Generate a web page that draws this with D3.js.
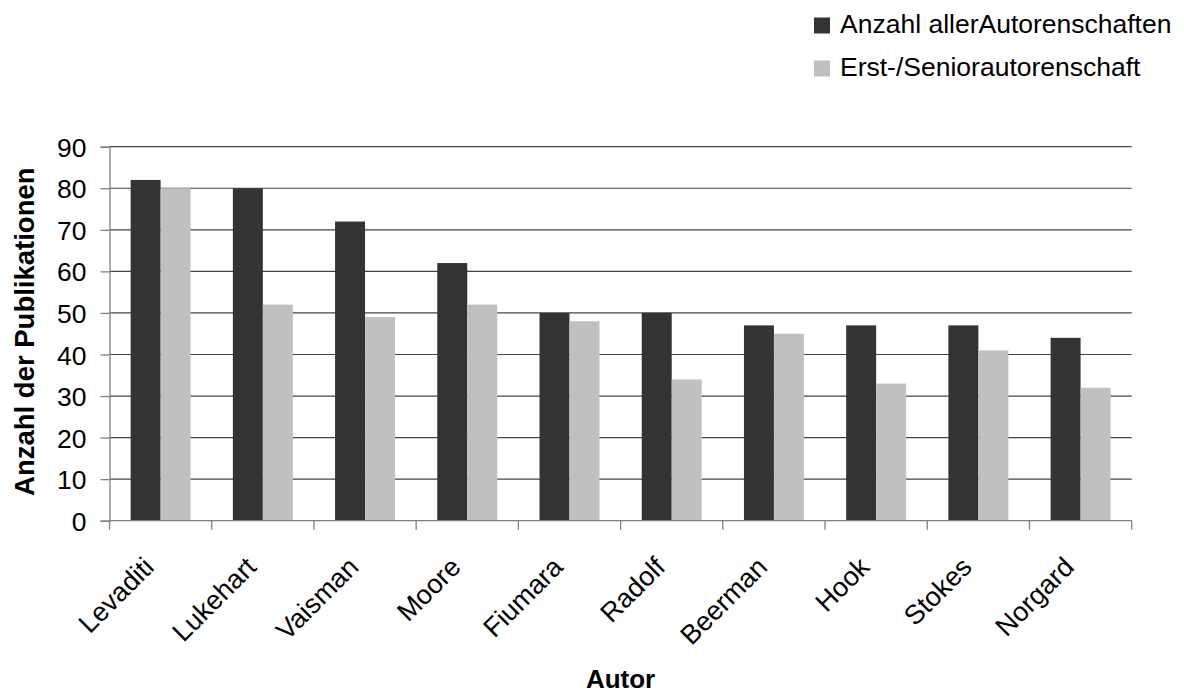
<!DOCTYPE html>
<html>
<head>
<meta charset="utf-8">
<script src="https://cdn.jsdelivr.net/npm/d3@7"></script>
<style>
  body { margin: 0; background: #fff; }
  text { font-family: "Liberation Sans", Arial, sans-serif; fill: #000; }
</style>
</head>
<body>
<div id="chart"></div>
<script>
// data
var authors = ["Levaditi", "Lukehart", "Vaisman", "Moore", "Fiumara", "Radolf", "Beerman", "Hook", "Stokes", "Norgard"];
var allAuthorships = [82, 80, 72, 62, 50, 50, 47, 47, 47, 44];
var firstSenior = [80, 52, 49, 52, 48, 34, 45, 33, 41, 32];
var seriesNames = ["Anzahl allerAutorenschaften", "Erst-/Seniorautorenschaft"];
var yTicks = [0, 10, 20, 30, 40, 50, 60, 70, 80, 90];

var colors = ["#333333", "#c0c0c0"];

// sizes
var svgWidth = 1184;
var svgHeight = 693;
var margin = {top: 146.7, right: 52.3, bottom: 172.3, left: 109.5};
var width = svgWidth - margin.left - margin.right;
var height = svgHeight - margin.top - margin.bottom;

var table = authors.map(function(a, i) {
  return {author: a, values: [allAuthorships[i], firstSenior[i]]};
});

var svg = d3.select("#chart")
  .append("svg")
  .attr("width", svgWidth)
  .attr("height", svgHeight);

var chart = svg.append("g")
  .attr("transform", `translate(${margin.left}, ${margin.top})`);

// scales
var x0 = d3.scaleBand()
  .domain(authors)
  .range([0, width])
  .padding(0);

var x1 = d3.scaleBand()
  .domain([0, 1])
  .range([0, x0.bandwidth()])
  .paddingInner(0)
  .paddingOuter(0.705);

var y = d3.scaleLinear()
  .domain([0, 90])
  .range([height, 0]);

// gridlines
chart.append("g")
  .selectAll("line")
  .data(yTicks.filter(d => d > 0))
  .enter()
  .append("line")
  .attr("x1", 0)
  .attr("x2", width)
  .attr("y1", d => y(d))
  .attr("y2", d => y(d))
  .attr("stroke", "#444")
  .attr("stroke-width", 1.2);

// bars
var groups = chart.selectAll(".group")
  .data(table)
  .enter()
  .append("g")
  .attr("class", "group")
  .attr("transform", d => `translate(${x0(d.author)}, 0)`);

groups.selectAll("rect")
  .data(d => d.values.map((v, i) => ({i: i, v: v})))
  .enter()
  .append("rect")
  .attr("x", d => x1(d.i))
  .attr("width", x1.bandwidth())
  .attr("y", d => y(d.v))
  .attr("height", d => height - y(d.v))
  .attr("fill", d => colors[d.i]);

// y axis
var left = d3.axisLeft(y).tickValues(yTicks).tickSize(9).tickPadding(14);
var yAxis = chart.append("g").call(left);
yAxis.select(".domain").attr("stroke", "#808080").attr("stroke-width", 1.3);
yAxis.selectAll(".tick line").attr("stroke", "#808080").attr("stroke-width", 1.3);
yAxis.selectAll(".tick text")
  .attr("font-size", 26.5)
  .attr("font-family", "Liberation Sans, Arial, sans-serif")
  .attr("dy", "0.36em");

// x axis line + ticks between categories
var xAxis = chart.append("g").attr("transform", `translate(0, ${height})`);
xAxis.append("line")
  .attr("x1", 0).attr("x2", width)
  .attr("stroke", "#808080").attr("stroke-width", 1.3);
xAxis.selectAll(".xtick")
  .data(authors.map(a => x0(a)).concat([width]))
  .enter()
  .append("line")
  .attr("class", "xtick")
  .attr("x1", d => d).attr("x2", d => d)
  .attr("y1", 0).attr("y2", 9)
  .attr("stroke", "#808080").attr("stroke-width", 1.3);

// rotated category labels
xAxis.selectAll(".xlabel")
  .data(authors)
  .enter()
  .append("text")
  .attr("class", "xlabel")
  .attr("text-anchor", "end")
  .attr("font-size", 27)
  .attr("transform", d => `translate(${x0(d) + x0.bandwidth() / 2 - 5}, 48) rotate(-45)`)
  .text(d => d);

// axis titles
svg.append("text")
  .attr("transform", `translate(34, ${margin.top + height / 2 - 2}) rotate(-90)`)
  .attr("text-anchor", "middle")
  .attr("font-size", 27.5)
  .attr("font-weight", "bold")
  .text("Anzahl der Publikationen");

svg.append("text")
  .attr("x", margin.left + width / 2)
  .attr("y", 688)
  .attr("text-anchor", "middle")
  .attr("font-size", 26)
  .attr("font-weight", "bold")
  .text("Autor");

// legend
var legend = svg.append("g").attr("transform", "translate(814, 0)");
var items = legend.selectAll(".item")
  .data(seriesNames)
  .enter()
  .append("g")
  .attr("class", "item")
  .attr("transform", (d, i) => `translate(0, ${17.5 + i * 43})`);
items.append("rect")
  .attr("width", 16).attr("height", 16)
  .attr("fill", (d, i) => colors[i]);
items.append("text")
  .attr("x", 26)
  .attr("y", 15.5)
  .attr("font-size", 26.5)
  .text(d => d);
</script>
</body>
</html>
